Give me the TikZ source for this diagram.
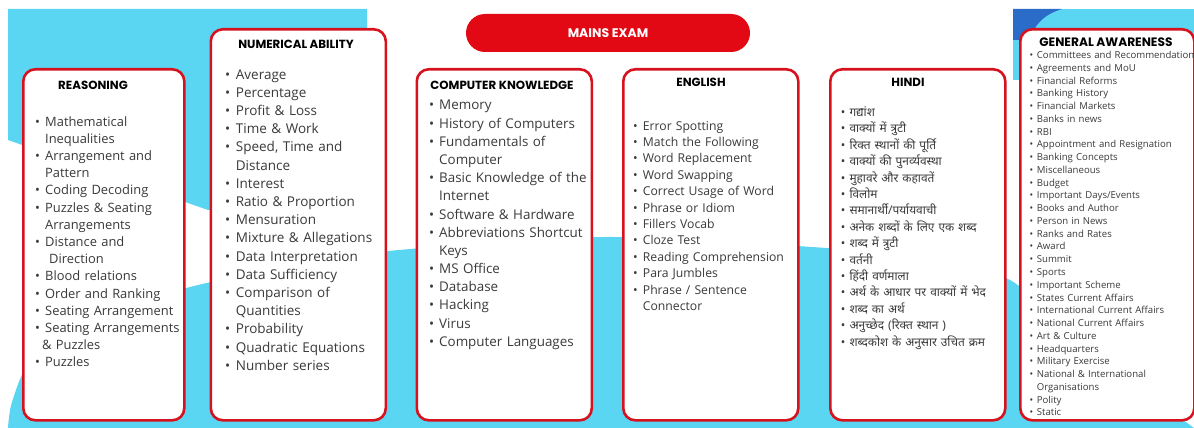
\documentclass[tikz,border=0pt]{standalone}
\usepackage{fontspec}
\setmainfont{Open Sans}
\newfontfamily\ttlfont{Poppins}
\newfontfamily\hindifont[Script=Devanagari]{Noto Sans}
\usetikzlibrary{positioning}

\definecolor{bgcyan}{RGB}{90,213,242}
\definecolor{bgblue}{RGB}{42,108,200}
\definecolor{boxred}{RGB}{214,18,30}
\definecolor{pillred}{RGB}{226,8,20}
\definecolor{itemgray}{RGB}{58,58,58}

\newlength\itmind
\newcommand\bul{\makebox[\itmind][l]{•}}
\newcommand\cnt{\hspace*{\itmind}}

\tikzset{
  subjbox/.style={draw=boxred, line width=2.6pt, rounded corners=12pt, fill=white,
    anchor=north west, inner sep=0pt},
  ttl/.style={font=\ttlfont\bfseries\fontsize{11.8}{13}\selectfont, text=black, inner sep=0pt},
  itemlist/.style n args={3}{align=left, text width=230pt, anchor=base west, inner sep=0pt,
    text=itemgray, font=\fontsize{#2}{#3}\selectfont,
    execute at begin node={\setlength{\itmind}{#1}}},
}

\begin{document}
\begin{tikzpicture}[x=1pt,y=-1pt]
\useasboundingbox (0,0) rectangle (1194,428);
% background
\fill[bgcyan] (8,9) -- (367,9) -- (367,200) -- (208,210) -- (8,140) -- cycle;
\fill[bgcyan] plot[smooth] coordinates {(8,428) (12,402) (30,362) (80,322) (190,287)
  (300,265) (399,250) (605,237) (812,247) (920,258) (1010,280) (1060,330)}
  -- (1194,428) -- cycle;
\fill[bgcyan] (1013,9) rectangle (1194,80);
\fill[bgblue] (1013,9) -- (1062,9) .. controls (1045,14) and (1034,24) .. (1030,40)
  -- (1013,40) -- cycle;

% title pill
\node[fill=pillred, rounded corners=19pt, minimum width=284pt, minimum height=38pt,
  inner sep=0pt, text=white, font=\ttlfont\bfseries\fontsize{12.5}{14}\selectfont]
  (mains) at (608,33) {MAINS EXAM};

% boxes
\node[subjbox, minimum width=161pt, minimum height=351pt] (reas) at (22,68) {};
\node[subjbox, minimum width=175pt, minimum height=391pt] (num) at (209.5,28) {};
\node[subjbox, minimum width=175pt, minimum height=351pt] (comp) at (415.5,68) {};
\node[subjbox, minimum width=175pt, minimum height=351pt] (eng) at (622,68) {};
\node[subjbox, minimum width=175pt, minimum height=351pt] (hin) at (829,68) {};
\node[subjbox, minimum width=174pt, minimum height=391pt] (gen) at (1019,28) {};

% headings
\node[ttl] (reas-t) at (93,85) {REASONING};
\node[ttl] (num-t) at (296,44.5) {NUMERICAL ABILITY};
\node[ttl] (comp-t) at (502,85) {COMPUTER KNOWLEDGE};
\node[ttl] (eng-t) at (701,82) {ENGLISH};
\node[ttl] (hin-t) at (908,82) {HINDI};
\node[ttl, font=\ttlfont\bfseries\fontsize{12.2}{14}\selectfont] (gen-t) at (1106,42.5) {GENERAL AWARENESS};

% lists
\node[itemlist={10pt}{12.9}{17.2}] (reas-l) at (35,126) {%
\bul Mathematical\\
\cnt Inequalities\\
\bul Arrangement and\\
\cnt Pattern\\
\bul Coding Decoding\\
\bul Puzzles \& Seating\\
\cnt Arrangements\\
\bul Distance and\\
\cnt\hspace*{4pt}Direction\\
\bul Blood relations\\
\bul Order and Ranking\\
\bul Seating Arrangement\\
\bul Seating Arrangements\\
\hspace*{-3pt}\cnt\&\ Puzzles\\
\bul Puzzles};

\node[itemlist={10.7pt}{13.5}{18.2}] (num-l) at (225,79.2) {%
\bul Average\\
\bul Percentage\\
\bul Profit \& Loss\\
\bul Time \& Work\\
\bul Speed, Time and\\
\cnt Distance\\
\bul Interest\\
\bul Ratio \& Proportion\\
\bul Mensuration\\
\bul Mixture \& Allegations\\
\bul Data Interpretation\\
\bul Data Sufficiency\\
\bul Comparison of\\
\cnt Quantities\\
\bul Probability\\
\bul Quadratic Equations\\
\bul Number series};

\node[itemlist={10pt}{13.4}{18.2}] (comp-l) at (429,109.8) {%
\bul Memory\\
\bul History of Computers\\
\bul Fundamentals of\\
\cnt Computer\\
\bul Basic Knowledge of the\\
\cnt Internet\\
\bul Software \& Hardware\\
\bul Abbreviations Shortcut\\
\cnt Keys\\
\bul MS Office\\
\bul Database\\
\bul Hacking\\
\bul Virus\\
\bul Computer Languages};

\node[itemlist={9.7pt}{12.2}{16.4}] (eng-l) at (633,130) {%
\bul Error Spotting\\
\bul Match the Following\\
\bul Word Replacement\\
\bul Word Swapping\\
\bul Correct Usage of Word\\
\bul Phrase or Idiom\\
\bul Fillers Vocab\\
\bul Cloze Test\\
\bul Reading Comprehension\\
\bul Para Jumbles\\
\bul Phrase / Sentence\\
\cnt Connector};

\node[itemlist={8.6pt}{11.9}{16.4}, font=\hindifont\fontsize{11.9}{16.4}\selectfont] (hin-l) at (840.7,116.5) {%
\bul गद्यांश\\
\bul वाक्यों में त्रुटी\\
\bul रिक्त स्थानों की पूर्ति\\
\bul वाक्यों की पुनर्व्यवस्था\\
\bul मुहावरे और कहावतें\\
\bul विलोम\\
\bul समानार्थी/पर्यायवाची\\
\bul अनेक शब्दों के लिए एक शब्द\\
\bul शब्द में त्रुटी\\
\bul वर्तनी\\
\bul हिंदी वर्णमाला\\
\bul अर्थ के आधार पर वाक्यों में भेद\\
\bul शब्द का अर्थ\\
\bul अनुच्छेद (रिक्त स्थान )\\
\bul शब्दकोश के अनुसार उचित क्रम};

\node[itemlist={7.4pt}{9.6}{12.76}] (gen-l) at (1029.3,58.6) {%
\bul Committees and Recommendation\\
\bul Agreements and MoU\\
\bul Financial Reforms\\
\bul Banking History\\
\bul Financial Markets\\
\bul Banks in news\\
\bul RBI\\
\bul Appointment and Resignation\\
\bul Banking Concepts\\
\bul Miscellaneous\\
\bul Budget\\
\bul Important Days/Events\\
\bul Books and Author\\
\bul Person in News\\
\bul Ranks and Rates\\
\bul Award\\
\bul Summit\\
\bul Sports\\
\bul Important Scheme\\
\bul States Current Affairs\\
\bul International Current Affairs\\
\bul National Current Affairs\\
\bul Art \& Culture\\
\bul Headquarters\\
\bul Military Exercise\\
\bul National \& International\\
\cnt Organisations\\
\bul Polity\\
\bul Static};
\end{tikzpicture}
\end{document}
